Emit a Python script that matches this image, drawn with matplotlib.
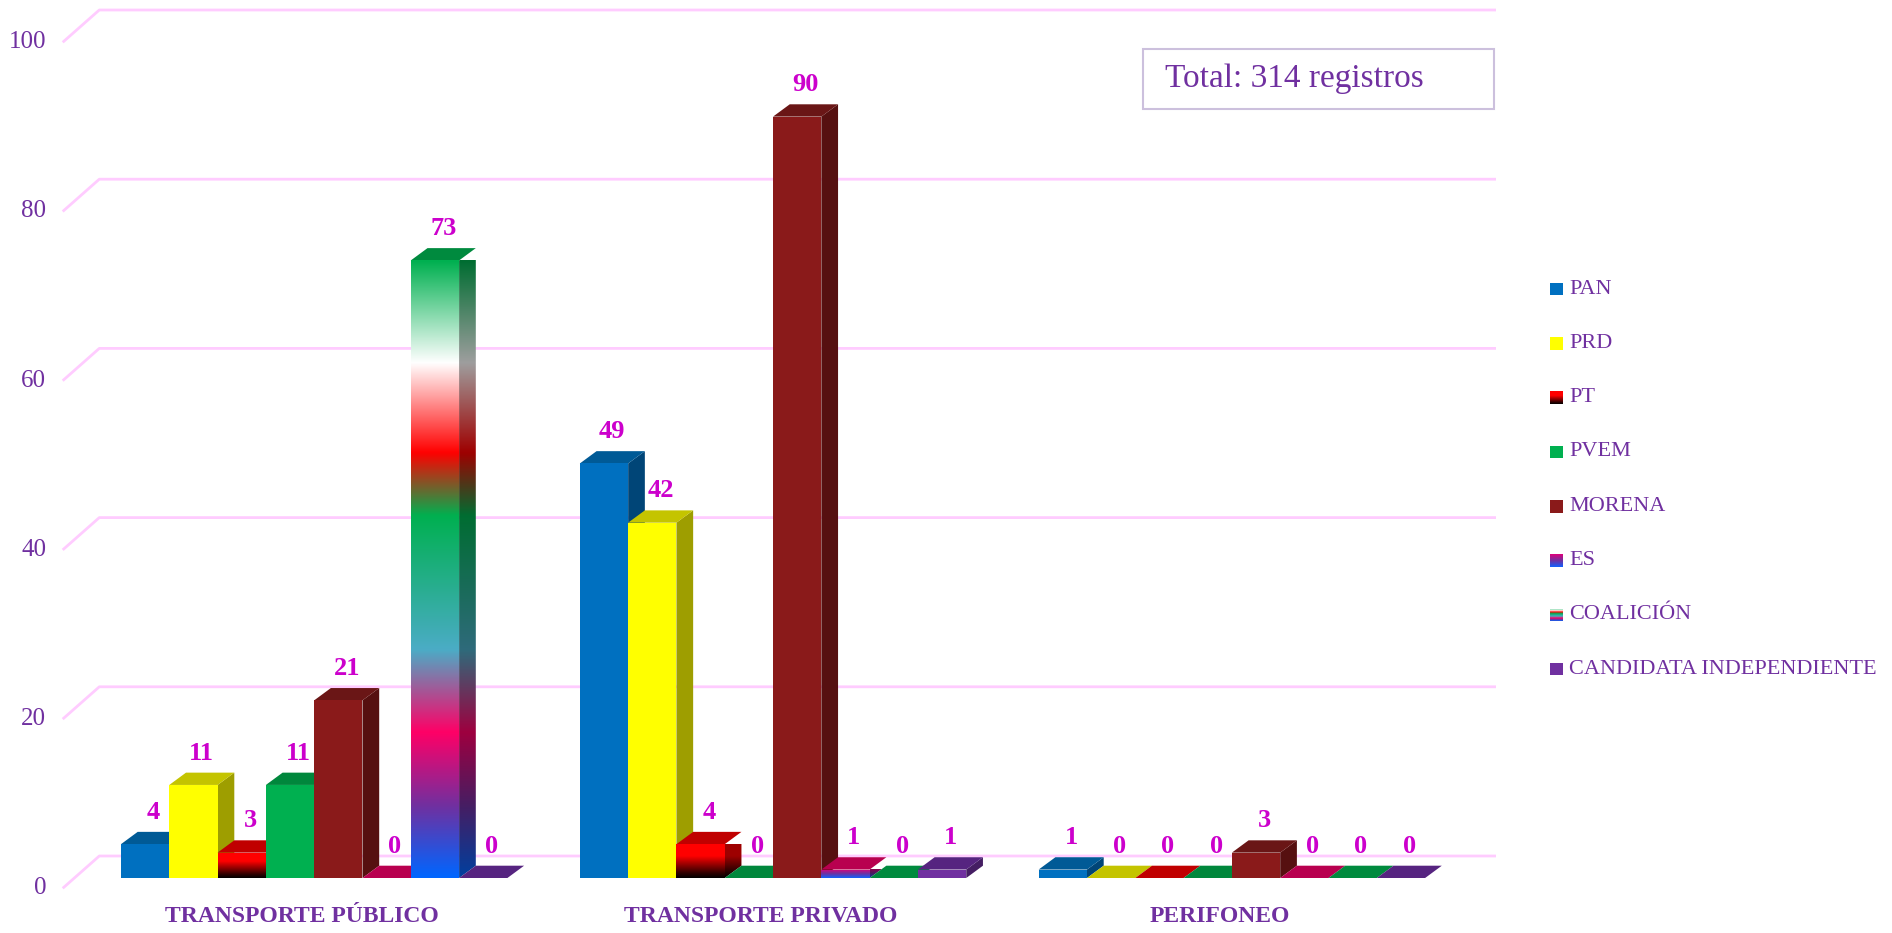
import numpy as np
import matplotlib.pyplot as plt
from matplotlib.patches import Polygon, Rectangle
from matplotlib.colors import LinearSegmentedColormap, to_rgb

plt.rcParams['font.family'] = ['Liberation Serif', 'DejaVu Serif']

# data
categorias = ['TRANSPORTE PÚBLICO', 'TRANSPORTE PRIVADO', 'PERIFONEO']
partidos = ['PAN', 'PRD', 'PT', 'PVEM', 'MORENA', 'ES', 'COALICIÓN',
            'CANDIDATA INDEPENDIENTE']
valores = {
    'PAN': [4, 49, 1],
    'PRD': [11, 42, 0],
    'PT': [3, 4, 0],
    'PVEM': [11, 0, 0],
    'MORENA': [21, 90, 3],
    'ES': [0, 1, 0],
    'COALICIÓN': [73, 0, 0],
    'CANDIDATA INDEPENDIENTE': [0, 1, 0],
}
total_txt = 'Total: 314 registros'
yticks = [0, 20, 40, 60, 80, 100]

# colours: flat colour or gradient stops (bottom -> top)
colores = {
    'PAN': '#0070C0',
    'PRD': '#FFFF00',
    'PT': [(0, '#000000'), (0.15, '#300000'), (0.65, '#FF0000'), (1, '#FF0000')],
    'PVEM': '#00B050',
    'MORENA': '#8A1A1A',
    'ES': [(0, '#1060FF'), (0.5, '#7030A0'), (1, '#E0007A')],
    'COALICIÓN': [(0, '#0066FF'), (0.115, '#7030A0'), (0.235, '#FF0066'),
                  (0.369, '#4BACC6'), (0.587, '#00B050'), (0.689, '#FF0000'),
                  (0.835, '#FFFFFF'), (1, '#00B050')],
    'CANDIDATA INDEPENDIENTE': '#7030A0',
}
tapas = {'PAN': '#005A96', 'PRD': '#C4C400', 'PT': '#C00000', 'PVEM': '#00873C',
         'MORENA': '#6A1616', 'ES': '#B8004F', 'COALICIÓN': '#008A3E',
         'CANDIDATA INDEPENDIENTE': '#562480'}

purple = '#7030A0'
magenta = '#CC00CC'
grid_c = '#FFCCFF'

W, H = 1892, 933
fig = plt.figure(figsize=(W / 100, H / 100), dpi=100)
ax = fig.add_axes([0, 0, 1, 1])
ax.set_axis_off()

# pixel layout -> data units (bar width = 1, y = value)
x0_px, y0_px = 121, 878
bw_px, uy_px = 48.3, 8.46
ax.set_xlim(-x0_px / bw_px, (W - x0_px) / bw_px)
ax.set_ylim((y0_px - H) / uy_px, y0_px / uy_px)


def px(x, y):
    return (x - x0_px) / bw_px, (y0_px - y) / uy_px


dx, dy = 16.7 / bw_px, 12.3 / uy_px  # bar depth offset
grupo = 9.5
back_off = px(0, 856)[1]
front_off = px(0, 888.3)[1]
xb0 = px(99.3, 0)[0]
xb1 = px(1496, 0)[0]
xf0 = px(62.7, 0)[0]

# walls / gridlines
for v in yticks:
    ax.plot([xf0, xb0, xb1], [v + front_off, v + back_off, v + back_off],
            color=grid_c, lw=2, zorder=1, solid_capstyle='butt')
    ax.text(px(46, 0)[0], v + front_off, str(v), ha='right', va='center',
            fontsize=18, color=purple)


def dark(c, f):
    r, g, b = to_rgb(c)
    return (r * f, g * f, b * f)


def cmap_de(p, f=1.0):
    c = colores[p]
    if isinstance(c, str):
        return None
    return LinearSegmentedColormap.from_list(p + str(f), [(s, dark(col, f)) for s, col in c])


def cara(poly, p, f, y_lo, y_hi, z):
    c = colores[p]
    if isinstance(c, str):
        ax.add_patch(Polygon(poly, closed=True, fc=dark(c, f), ec='none', zorder=z))
        return
    pg = Polygon(poly, closed=True, fc='none', ec='none', zorder=z)
    ax.add_patch(pg)
    xs = [q[0] for q in poly]
    grad = np.linspace(0, 1, 256).reshape(-1, 1)
    im = ax.imshow(grad, cmap=cmap_de(p, f), origin='lower', aspect='auto',
                   extent=[min(xs), max(xs), y_lo, y_hi], zorder=z,
                   interpolation='bilinear')
    im.set_clip_path(pg)


z = 3
for g, cat in enumerate(categorias):
    for i, p in enumerate(partidos):
        v = valores[p][g]
        xl = g * grupo + i
        xr = xl + 1
        if v > 0:
            cara([(xr, 0), (xr + dx, dy), (xr + dx, v + dy), (xr, v)], p, 0.62, 0, v, z)
        ax.add_patch(Polygon([(xl, v), (xl + dx, v + dy), (xr + dx, v + dy), (xr, v)],
                             closed=True, fc=tapas[p], ec='none', zorder=z + 0.1))
        if v > 0:
            cara([(xl, 0), (xr, 0), (xr, v), (xl, v)], p, 1.0, 0, v, z + 0.2)
        z += 1
        ax.text(xl + 0.5 + dx / 2, v + dy + 2.3, str(v), ha='center', va='center',
                fontsize=19, fontweight='bold', color=magenta, zorder=100)
    ax.text(g * grupo + 4 - 0.25, px(0, 917)[1], cat, ha='center', va='center',
            fontsize=17, fontweight='bold', color=purple)

# legend
for k, p in enumerate(partidos):
    yc = 289 + 54.3 * k
    xa, ya = px(1550, yc + 6.3)
    xb, yb = px(1562.7, yc - 6.3)
    cara([(xa, ya), (xb, ya), (xb, yb), (xa, yb)], p, 1.0, ya, yb, 200)
    ax.text(px(1569, 0)[0], px(0, yc)[1], p, ha='left', va='center',
            fontsize=16, color=purple)

# total box
bx0, by0 = px(1143, 108.7)
bx1, by1 = px(1494, 49)
ax.add_patch(Rectangle((bx0, by0), bx1 - bx0, by1 - by0, fc='white',
                       ec='#CCC0DD', lw=1.5, zorder=150))
ax.text(px(1165, 0)[0], (by0 + by1) / 2, total_txt, ha='left', va='center',
        fontsize=24, color=purple, zorder=151)

fig.savefig('out.png', dpi=100)
